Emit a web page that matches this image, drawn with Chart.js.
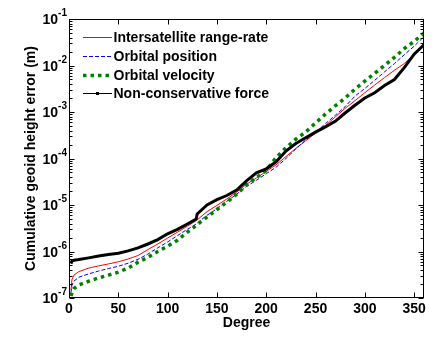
<!DOCTYPE html>
<html>
<head>
<meta charset="utf-8">
<script src="https://cdn.jsdelivr.net/npm/chart.js@4"></script>
<style>
  body { margin: 0; background: #fff; }
  canvas { display: block; }
</style>
</head>
<body>
<canvas id="geoidChart" width="446" height="341"></canvas>
<script>
// spherical harmonic degree
const degrees = [2, 3, 5, 10, 20, 30, 40, 50, 60, 70, 80, 90, 100, 110, 120, 129, 130, 140, 150,
  160, 170, 180, 190, 200, 210, 220, 230, 240, 250, 260, 270, 280, 290, 300, 310, 320, 330, 340, 350, 360];

// cumulative geoid height error (m)
const rangeRate = [1.5e-7, 2.5e-7, 3.1e-7, 3.7e-7, 4.4e-7, 4.9e-7, 5.4e-7, 6.0e-7, 6.9e-7, 8.2e-7,
  1.1e-6, 1.45e-6, 1.95e-6, 2.6e-6, 3.5e-6, 4.6e-6, 4.8e-6, 7.2e-6, 9.8e-6,
  1.35e-5, 1.9e-5, 2.8e-5, 3.8e-5, 5.3e-5, 7.3e-5, 1.1e-4, 1.65e-4, 2.4e-4, 3.5e-4, 5.1e-4,
  7.8e-4, 1.2e-3, 1.75e-3, 2.6e-3, 3.8e-3, 5.5e-3, 7.9e-3, 1.1e-2, 1.75e-2, 3.0e-2];
const orbitalPosition = [1.3e-7, 1.9e-7, 2.3e-7, 2.8e-7, 3.3e-7, 3.8e-7, 4.3e-7, 4.8e-7, 5.6e-7, 6.8e-7,
  8.8e-7, 1.2e-6, 1.6e-6, 2.2e-6, 3.0e-6, 3.9e-6, 4.1e-6, 6.0e-6, 8.3e-6,
  1.2e-5, 1.7e-5, 2.5e-5, 3.4e-5, 4.7e-5, 6.5e-5, 1.0e-4, 1.6e-4, 2.5e-4, 3.7e-4, 5.6e-4,
  8.5e-4, 1.3e-3, 2.2e-3, 3.2e-3, 4.8e-3, 7.3e-3, 1.1e-2, 1.7e-2, 2.6e-2, 4.2e-2];
const orbitalVelocity = [1.1e-7, 1.3e-7, 1.6e-7, 1.9e-7, 2.3e-7, 2.7e-7, 3.1e-7, 3.6e-7, 4.4e-7, 5.9e-7,
  7.5e-7, 1.0e-6, 1.3e-6, 1.75e-6, 2.6e-6, 3.6e-6, 3.8e-6, 5.5e-6, 8.0e-6,
  1.15e-5, 1.7e-5, 2.7e-5, 3.9e-5, 5.5e-5, 1.05e-4, 1.7e-4, 2.6e-4, 3.7e-4, 5.8e-4, 9.0e-4,
  1.35e-3, 2.0e-3, 3.1e-3, 4.6e-3, 6.8e-3, 1.0e-2, 1.5e-2, 2.3e-2, 3.3e-2, 5.0e-2];
const nonConservative = [5.5e-7, 6.2e-7, 6.5e-7, 6.7e-7, 7.3e-7, 8.0e-7, 8.6e-7, 9.2e-7, 1.03e-6, 1.2e-6,
  1.45e-6, 1.8e-6, 2.4e-6, 3.0e-6, 3.9e-6, 5.0e-6, 6.4e-6, 1.0e-5, 1.3e-5,
  1.6e-5, 2.1e-5, 3.3e-5, 4.9e-5, 6.0e-5, 8.5e-5, 1.45e-4, 2.1e-4, 2.8e-4, 3.7e-4, 4.8e-4,
  6.3e-4, 9.5e-4, 1.4e-3, 2.0e-3, 2.6e-3, 3.7e-3, 5.0e-3, 9.0e-3, 1.75e-2, 2.8e-2];

const seriesNames = ['Intersatellite range-rate', 'Orbital position', 'Orbital velocity', 'Non-conservative force'];
const xTicks = [0, 50, 100, 150, 200, 250, 300, 350];
const yTicks = [1e-7, 1e-6, 1e-5, 1e-4, 1e-3, 1e-2, 1e-1];

const FONT = 'Arial, "Liberation Sans", sans-serif';
const toPoints = vals => degrees.map((d, i) => ({ x: d, y: vals[i] }));

// legend line widths differ from plotted widths for the black series
const legendStyle = [
  { color: '#ff0000', width: 1, dash: [] },
  { color: '#0000ff', width: 1, dash: [4, 2] },
  { color: '#008000', width: 3.5, dash: [3.5, 4] },
  { color: '#000000', width: 1, dash: [], marker: true }
];

const axesPlugin = {
  id: 'axesPlugin',
  afterDatasetsDraw(chart) {
    const { ctx, chartArea: a, scales: { x, y } } = chart;
    const L = Math.round(a.left) + 0.5, R = Math.round(a.right) - 0.5;
    const T = Math.round(a.top) + 0.5, B = Math.round(a.bottom) - 0.5;
    ctx.save();
    ctx.strokeStyle = '#000';
    ctx.lineWidth = 1;
    ctx.setLineDash([]);
    ctx.strokeRect(L, T, R - L, B - T);

    ctx.beginPath();
    // x ticks, inward on bottom and top
    xTicks.forEach(v => {
      const px = Math.round(x.getPixelForValue(v)) + 0.5;
      ctx.moveTo(px, B); ctx.lineTo(px, B - 5);
      ctx.moveTo(px, T); ctx.lineTo(px, T + 5);
    });
    // y major and minor ticks, inward on left and right
    for (let k = -7; k <= -1; k++) {
      for (let m = 1; m <= 9; m++) {
        const v = m * Math.pow(10, k);
        if (v > 0.1 * 1.0001) break;
        const py = Math.round(y.getPixelForValue(v)) + 0.5;
        const len = m === 1 ? 5 : 3;
        ctx.moveTo(L, py); ctx.lineTo(L + len, py);
        ctx.moveTo(R, py); ctx.lineTo(R - len, py);
      }
    }
    ctx.stroke();

    ctx.fillStyle = '#000';
    // x tick labels
    ctx.font = 'bold 14px ' + FONT;
    ctx.textAlign = 'center';
    ctx.textBaseline = 'alphabetic';
    xTicks.forEach(v => ctx.fillText(String(v), x.getPixelForValue(v), a.bottom + 15));

    // y tick labels as 10 with superscript exponent
    yTicks.forEach(v => {
      const py = y.getPixelForValue(v);
      const exp = String(Math.round(Math.log10(v)));
      ctx.font = 'bold 10px ' + FONT;
      const ew = ctx.measureText(exp).width;
      ctx.textAlign = 'right';
      ctx.fillText(exp, a.left - 2, py - 3);
      ctx.font = 'bold 14px ' + FONT;
      ctx.fillText('10', a.left - 2 - ew, py + 5);
    });

    // axis titles
    ctx.textAlign = 'center';
    ctx.font = 'bold 14px ' + FONT;
    ctx.fillText('Degree', (a.left + a.right) / 2, 327);
    ctx.save();
    ctx.translate(35, 158.5);
    ctx.rotate(-Math.PI / 2);
    ctx.fillText('Cumulative geoid height error (m)', 0, 0);
    ctx.restore();

    // legend
    const rowY = [36.5, 55.5, 74.5, 93];
    seriesNames.forEach((name, i) => {
      const s = legendStyle[i];
      const yy = Math.round(rowY[i]) + 0.5;
      ctx.strokeStyle = s.color;
      ctx.lineWidth = s.width;
      ctx.setLineDash(s.dash);
      ctx.beginPath();
      ctx.moveTo(83, yy); ctx.lineTo(112, yy);
      ctx.stroke();
      if (s.marker) {
        ctx.fillStyle = s.color;
        ctx.fillRect(96, yy - 1.5, 3, 3);
      }
      ctx.setLineDash([]);
      ctx.fillStyle = '#000';
      ctx.textAlign = 'left';
      ctx.font = 'bold 14px ' + FONT;
      ctx.fillText(name, 113.5, rowY[i] + 5);
    });
    ctx.restore();
  }
};

new Chart(document.getElementById('geoidChart'), {
  type: 'line',
  data: {
    datasets: [
      { label: seriesNames[0], data: toPoints(rangeRate), borderColor: '#ff0000', borderWidth: 1, order: 3 },
      { label: seriesNames[1], data: toPoints(orbitalPosition), borderColor: '#0000ff', borderWidth: 1,
        borderDash: [4, 2], order: 2 },
      { label: seriesNames[2], data: toPoints(orbitalVelocity), borderColor: '#008000', borderWidth: 3.5,
        borderDash: [3.5, 4], order: 1 },
      { label: seriesNames[3], data: toPoints(nonConservative), borderColor: '#000000', borderWidth: 3, order: 0 }
    ]
  },
  options: {
    responsive: false,
    animation: false,
    devicePixelRatio: 1,
    layout: { padding: { left: 69, top: 19, right: 22, bottom: 43 } },
    elements: { point: { radius: 0 }, line: { tension: 0, fill: false } },
    scales: {
      x: { type: 'linear', min: 0, max: 360, display: false },
      y: { type: 'logarithmic', min: 1e-7, max: 1e-1, display: false }
    },
    plugins: { legend: { display: false }, tooltip: { enabled: false } }
  },
  plugins: [axesPlugin]
});
</script>
</body>
</html>
